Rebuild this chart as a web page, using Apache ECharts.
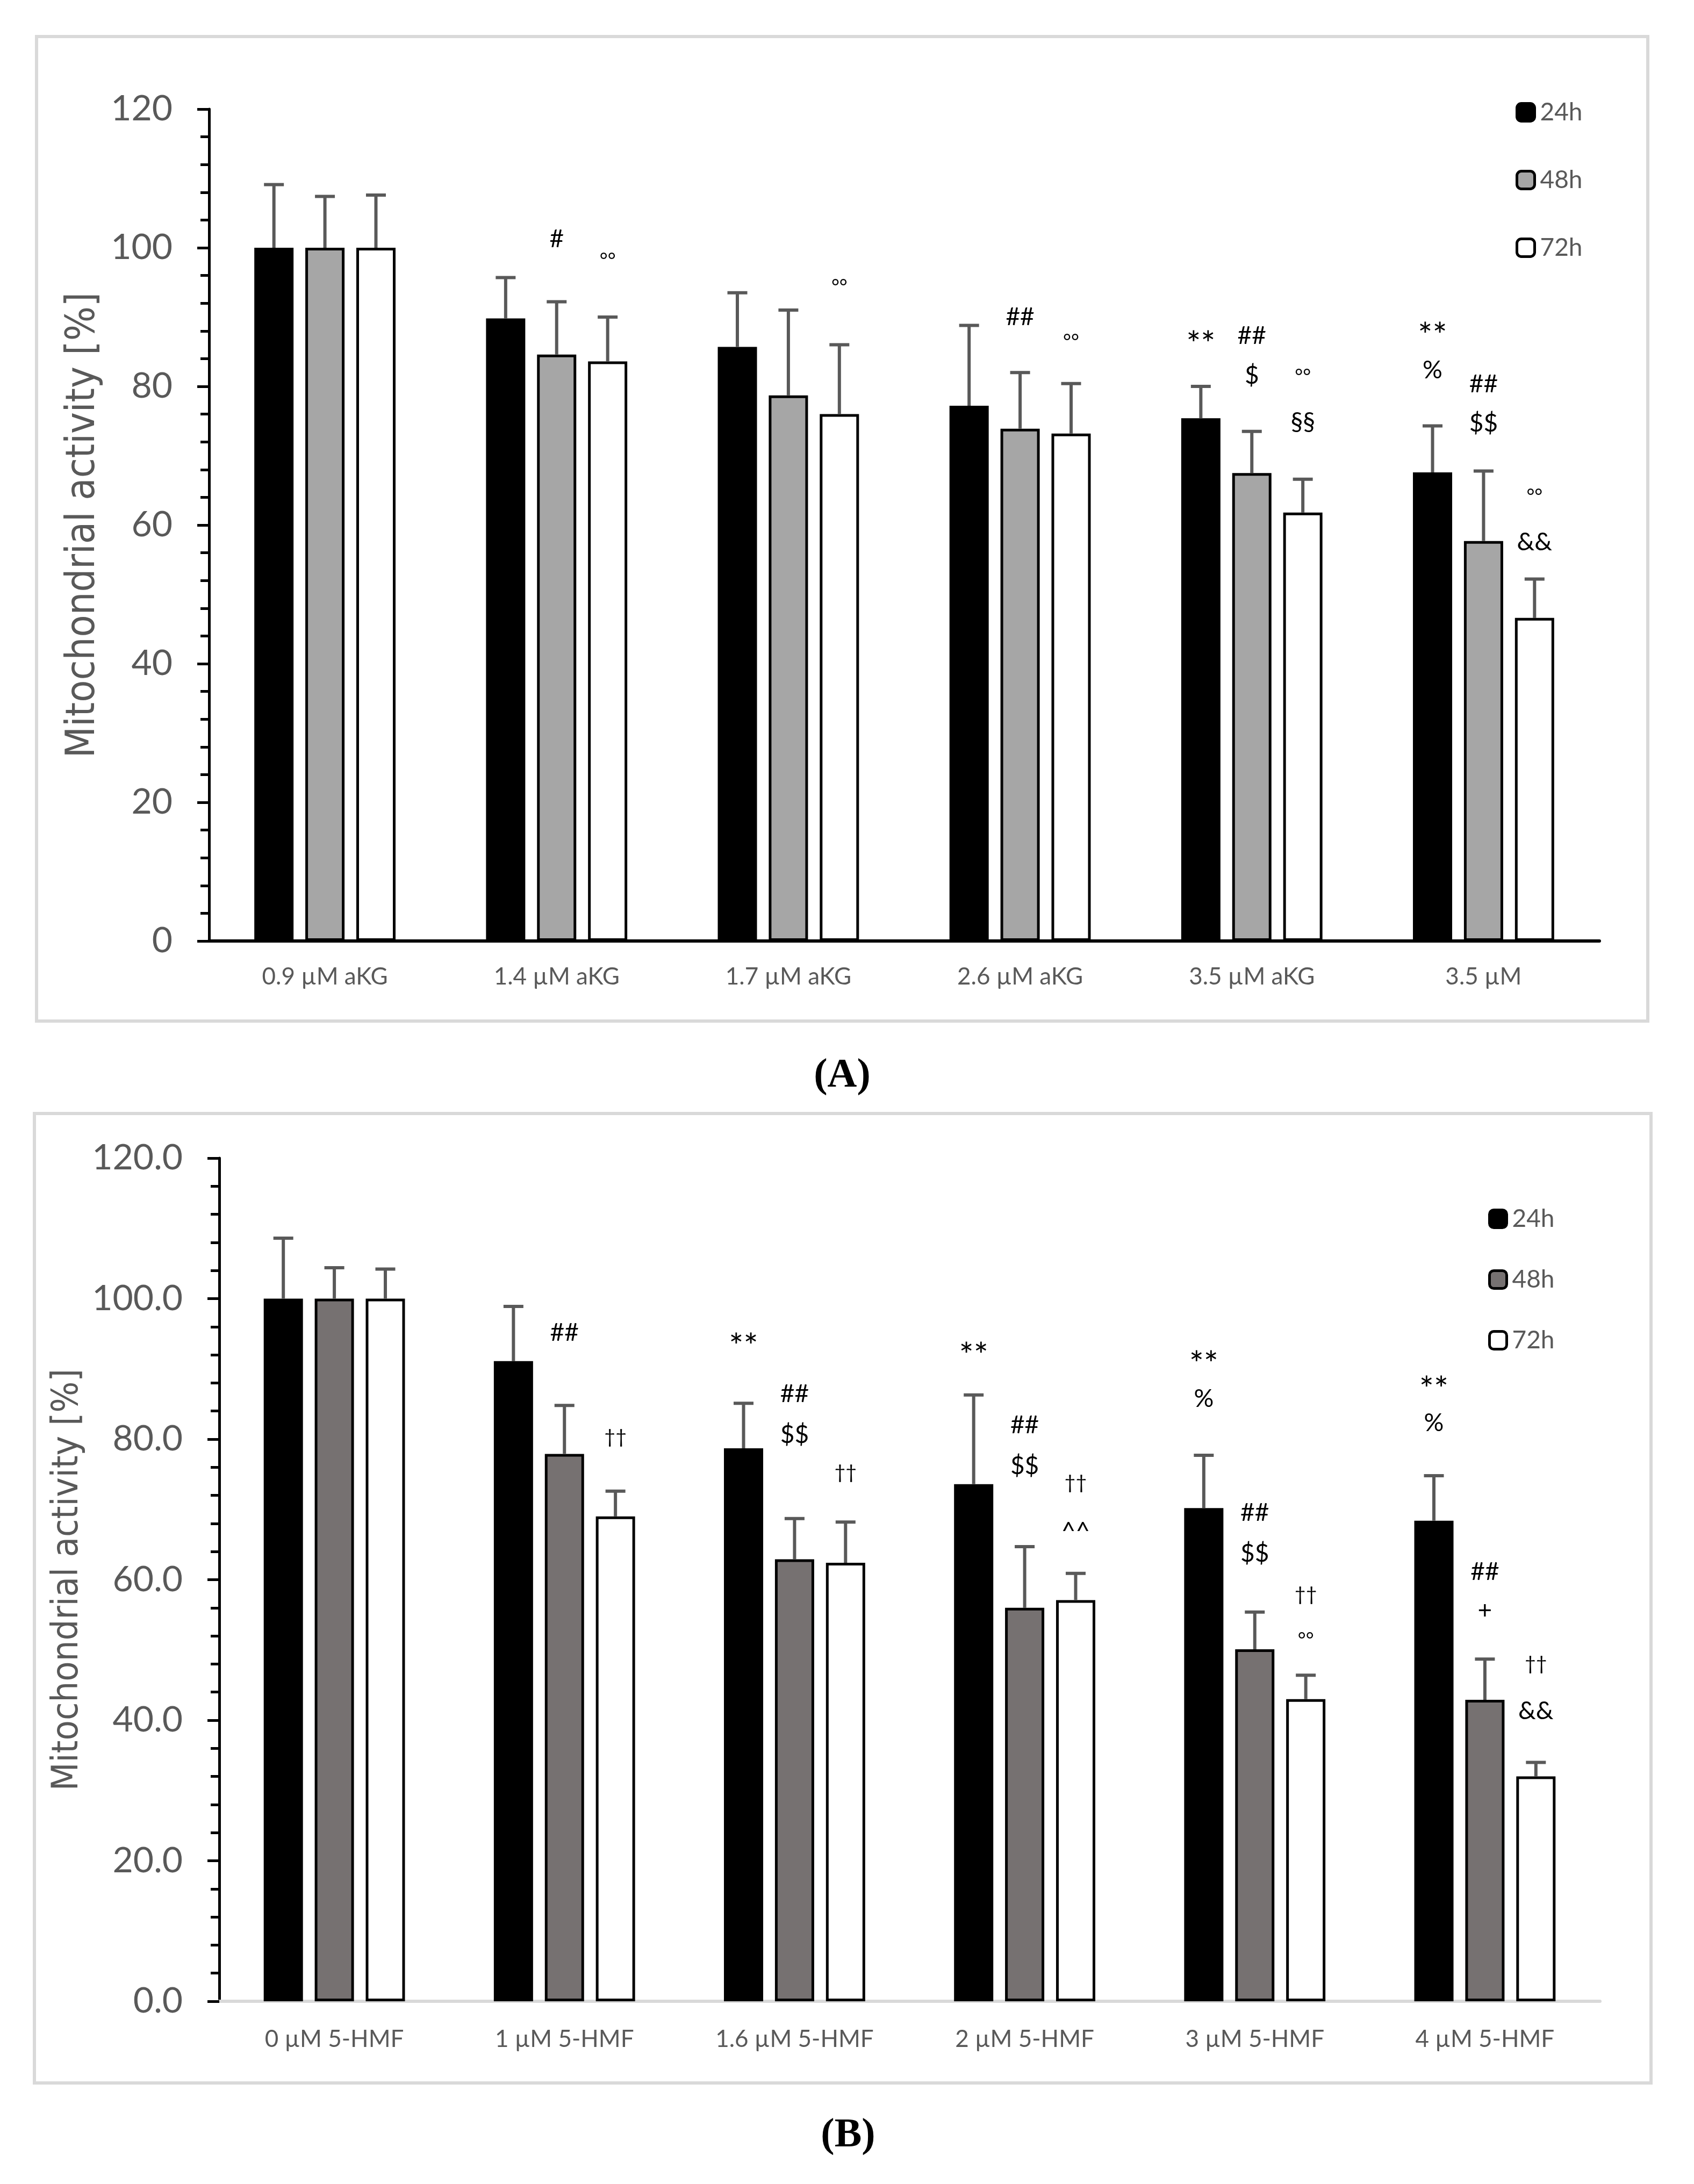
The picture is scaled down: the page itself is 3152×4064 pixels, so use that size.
<!DOCTYPE html>
<html>
<head>
<meta charset="utf-8">
<script src="https://cdn.jsdelivr.net/npm/echarts@6/dist/echarts.min.js"></script>
<style>
html,body{margin:0;padding:0;background:#fff;}
#c{width:3152px;height:4064px;}
</style>
</head>
<body>
<div id="c"></div>
<script>
// ---------- DATA ----------
const seriesNames = ['24h', '48h', '72h'];

const categoriesA = ['0.9 µM aKG', '1.4 µM aKG', '1.7 µM aKG', '2.6 µM aKG', '3.5 µM aKG', '3.5 µM'];
const a24 = [100, 89.8, 85.7, 77.2, 75.4, 67.6];
const a48 = [100, 84.6, 78.7, 73.9, 67.5, 57.7];
const a72 = [100, 83.6, 76.0, 73.2, 61.8, 46.6];
const a24sd = [9.1, 5.9, 7.8, 11.6, 4.6, 6.7];
const a48sd = [7.4, 7.6, 12.3, 8.1, 6.0, 10.1];
const a72sd = [7.6, 6.4, 10.0, 7.2, 4.8, 5.6];
// [series index, category index, level, text]
const annotationsA = [
  [1, 1, 101.2, '#'], [2, 1, 98.7, '°°'],
  [2, 2, 94.9, '°°'],
  [1, 3, 90.0, '##'], [2, 3, 87.0, '°°'],
  [0, 4, 87.0, '**'], [1, 4, 87.3, '##'], [1, 4, 81.5, '$'], [2, 4, 82.0, '°°'], [2, 4, 74.9, '§§'],
  [0, 5, 88.3, '**'], [0, 5, 82.3, '%'], [1, 5, 80.3, '##'], [1, 5, 74.6, '$$'], [2, 5, 64.7, '°°'], [2, 5, 57.5, '&&']
];
const yTicksA = [0, 20, 40, 60, 80, 100, 120];

const categoriesB = ['0 µM 5-HMF', '1 µM 5-HMF', '1.6 µM 5-HMF', '2 µM 5-HMF', '3 µM 5-HMF', '4 µM 5-HMF'];
const b24 = [100, 91.1, 78.7, 73.6, 70.2, 68.4];
const b48 = [100, 77.9, 62.9, 56.0, 50.1, 42.9];
const b72 = [100, 69.0, 62.4, 57.1, 43.0, 32.0];
const b24sd = [8.6, 7.8, 6.4, 12.7, 7.5, 6.4];
const b48sd = [4.4, 6.9, 5.8, 8.7, 5.3, 5.8];
const b72sd = [4.2, 3.6, 5.8, 3.8, 3.4, 2.0];
const annotationsB = [
  [1, 1, 95.1, '##'], [2, 1, 80.3, '††'],
  [0, 2, 94.1, '**'], [1, 2, 86.4, '##'], [1, 2, 80.6, '$$'], [2, 2, 75.2, '††'],
  [0, 3, 92.8, '**'], [1, 3, 82.0, '##'], [1, 3, 76.2, '$$'], [2, 3, 73.8, '††'], [2, 3, 67.5, '^^'],
  [0, 4, 91.6, '**'], [0, 4, 85.7, '%'], [1, 4, 69.5, '##'], [1, 4, 63.7, '$$'], [2, 4, 57.9, '††'], [2, 4, 52.0, '°°'],
  [0, 5, 88.0, '**'], [0, 5, 82.3, '%'], [1, 5, 61.1, '##'], [1, 5, 55.6, '+'], [2, 5, 48.0, '††'], [2, 5, 41.3, '&&']
];
const yTicksB = [0, 20, 40, 60, 80, 100, 120];

// ---------- STYLE ----------
const BAR_W = 73;
const BAR_GAP = 0.30;
const CAP = 37;
const ERR_COLOR = '#595959';
const TXT = '#595959';
const FONT = 'Lato, "Open Sans", sans-serif';
const TITLE_FONT = '"Liberation Sans Narrow", "DejaVu Sans Condensed", sans-serif';
const fillsA = ['#000000', '#a6a6a6', '#ffffff'];
const fillsB = ['#000000', '#767171', '#ffffff'];
const glyphShift = {'°°': 8, '**': 14, '^^': 9};
const glyphSize = {'††': 36, '**': 64, '°°': 36};

function barOffset(si) { return (si - 1) * BAR_W * (1 + BAR_GAP); }

function barSeries(name, data, fill, gi) {
  return {
    name: name, type: 'bar', xAxisIndex: gi, yAxisIndex: gi,
    data: data, barWidth: BAR_W, barGap: (BAR_GAP * 100) + '%',
    itemStyle: {color: fill, borderColor: '#000', borderWidth: 5},
    emphasis: {disabled: true}, z: 2
  };
}

function errSeries(vals, sds, si, gi) {
  return {
    name: 'err' + gi + '_' + si, type: 'custom', xAxisIndex: gi, yAxisIndex: gi,
    data: vals.map((v, i) => [i, v, v + sds[i]]),
    encode: {x: 0, y: [1, 2]}, z: 5, clip: false, silent: true,
    renderItem: function (params, api) {
      const cat = api.value(0);
      const lo = api.coord([cat, api.value(1)]);
      const hi = api.coord([cat, api.value(2)]);
      const x = lo[0] + barOffset(si);
      const st = {stroke: ERR_COLOR, lineWidth: 6};
      return {type: 'group', children: [
        {type: 'line', shape: {x1: x, y1: lo[1], x2: x, y2: hi[1]}, style: st},
        {type: 'line', shape: {x1: x - CAP / 2, y1: hi[1], x2: x + CAP / 2, y2: hi[1]}, style: st}
      ]};
    }
  };
}

function annSeries(ann, gi) {
  return {
    name: 'ann' + gi, type: 'custom', xAxisIndex: gi, yAxisIndex: gi,
    data: ann.map(a => [a[1], a[2]]),
    encode: {x: 0, y: 1}, z: 6, clip: false, silent: true,
    renderItem: function (params, api) {
      const a = ann[params.dataIndex];
      const p = api.coord([a[1], a[2]]);
      const t = a[3];
      const fs = glyphSize[t] || 46;
      return {type: 'text', x: p[0] + barOffset(a[0]), y: p[1] + (glyphShift[t] || 0),
        style: {text: t, fill: '#000', fontSize: fs, fontFamily: FONT,
          align: 'center', verticalAlign: 'middle', textAlign: 'center', textVerticalAlign: 'middle'}};
    }
  };
}

function legendData(fills) {
  return seriesNames.map((n, i) => ({name: n, icon: 'roundRect',
    itemStyle: {color: fills[i], borderColor: '#000', borderWidth: 5}}));
}

const chart = echarts.init(document.getElementById('c'), null, {renderer: 'canvas'});

const yAxisCommon = (fmt, nameGap, nameSize) => ({
  type: 'value', min: yTicksA[0], max: yTicksA[yTicksA.length - 1], interval: 20,
  name: 'Mitochondrial activity [%]', nameLocation: 'middle', nameGap: nameGap,
  nameTextStyle: {fontFamily: TITLE_FONT, fontSize: nameSize, color: TXT},
  axisLine: {show: true, lineStyle: {color: '#000', width: 5}},
  axisTick: {show: true, length: 22, lineStyle: {color: '#000', width: 5}},
  minorTick: {show: true, splitNumber: 5, length: 16, lineStyle: {color: '#000', width: 5}},
  splitLine: {show: false}, minorSplitLine: {show: false},
  axisLabel: {fontFamily: FONT, fontSize: 66, color: TXT, margin: 68, formatter: fmt}
});

const option = {
  backgroundColor: '#ffffff',
  animation: false,
  graphic: [
    {type: 'rect', shape: {x: 68, y: 68, width: 2998, height: 1832}, style: {fill: 'none', stroke: '#d9d9d9', lineWidth: 6}, z: 0},
    {type: 'rect', shape: {x: 64, y: 2072, width: 3008, height: 1804}, style: {fill: 'none', stroke: '#d9d9d9', lineWidth: 6}, z: 0},
    {type: 'text', x: 1567, y: 2002, style: {text: '(A)', fontFamily: '"Liberation Serif", serif', fontWeight: 'bold', fontSize: 76, fill: '#000', align: 'center', verticalAlign: 'middle', textAlign: 'center', textVerticalAlign: 'middle'}},
    {type: 'text', x: 1578, y: 3974, style: {text: '(B)', fontFamily: '"Liberation Serif", serif', fontWeight: 'bold', fontSize: 76, fill: '#000', align: 'center', verticalAlign: 'middle', textAlign: 'center', textVerticalAlign: 'middle'}}
  ],
  grid: [
    {left: 389, top: 203, width: 2587, height: 1548, containLabel: false},
    {left: 408, top: 2155, width: 2569, height: 1569, containLabel: false}
  ],
  legend: [
    {orient: 'vertical', left: 2820, top: 186, itemWidth: 33, itemHeight: 33, itemGap: 80, padding: 0,
      textStyle: {fontFamily: FONT, fontSize: 46, color: TXT, lineHeight: 44, padding: [0, 0, 0, 5]},
      data: legendData(fillsA), selectedMode: false},
    {orient: 'vertical', left: 2769, top: 2245, itemWidth: 32, itemHeight: 33, itemGap: 67, padding: 0,
      textStyle: {fontFamily: FONT, fontSize: 46, color: TXT, lineHeight: 44, padding: [0, 0, 0, 5]},
      data: legendData(fillsB), selectedMode: false}
  ],
  xAxis: [
    {type: 'category', gridIndex: 0, data: categoriesA,
      axisLine: {show: true, lineStyle: {color: '#000', width: 6}},
      axisTick: {show: false},
      axisLabel: {fontFamily: FONT, fontSize: 44, color: TXT, margin: 45, lineHeight: 44}},
    {type: 'category', gridIndex: 1, data: categoriesB,
      axisLine: {show: true, lineStyle: {color: '#d9d9d9', width: 6}},
      axisTick: {show: false},
      axisLabel: {fontFamily: FONT, fontSize: 44, color: TXT, margin: 49, lineHeight: 44}}
  ],
  yAxis: [
    Object.assign(yAxisCommon(v => String(v), 196, 75), {gridIndex: 0}),
    Object.assign(yAxisCommon(v => v.toFixed(1), 242, 68), {gridIndex: 1, min: yTicksB[0], max: yTicksB[yTicksB.length - 1]})
  ],
  series: [
    barSeries(seriesNames[0], a24, fillsA[0], 0),
    barSeries(seriesNames[1], a48, fillsA[1], 0),
    barSeries(seriesNames[2], a72, fillsA[2], 0),
    errSeries(a24, a24sd, 0, 0),
    errSeries(a48, a48sd, 1, 0),
    errSeries(a72, a72sd, 2, 0),
    annSeries(annotationsA, 0),
    barSeries(seriesNames[0], b24, fillsB[0], 1),
    barSeries(seriesNames[1], b48, fillsB[1], 1),
    barSeries(seriesNames[2], b72, fillsB[2], 1),
    errSeries(b24, b24sd, 0, 1),
    errSeries(b48, b48sd, 1, 1),
    errSeries(b72, b72sd, 2, 1),
    annSeries(annotationsB, 1)
  ]
};
chart.setOption(option);
</script>
</body>
</html>
